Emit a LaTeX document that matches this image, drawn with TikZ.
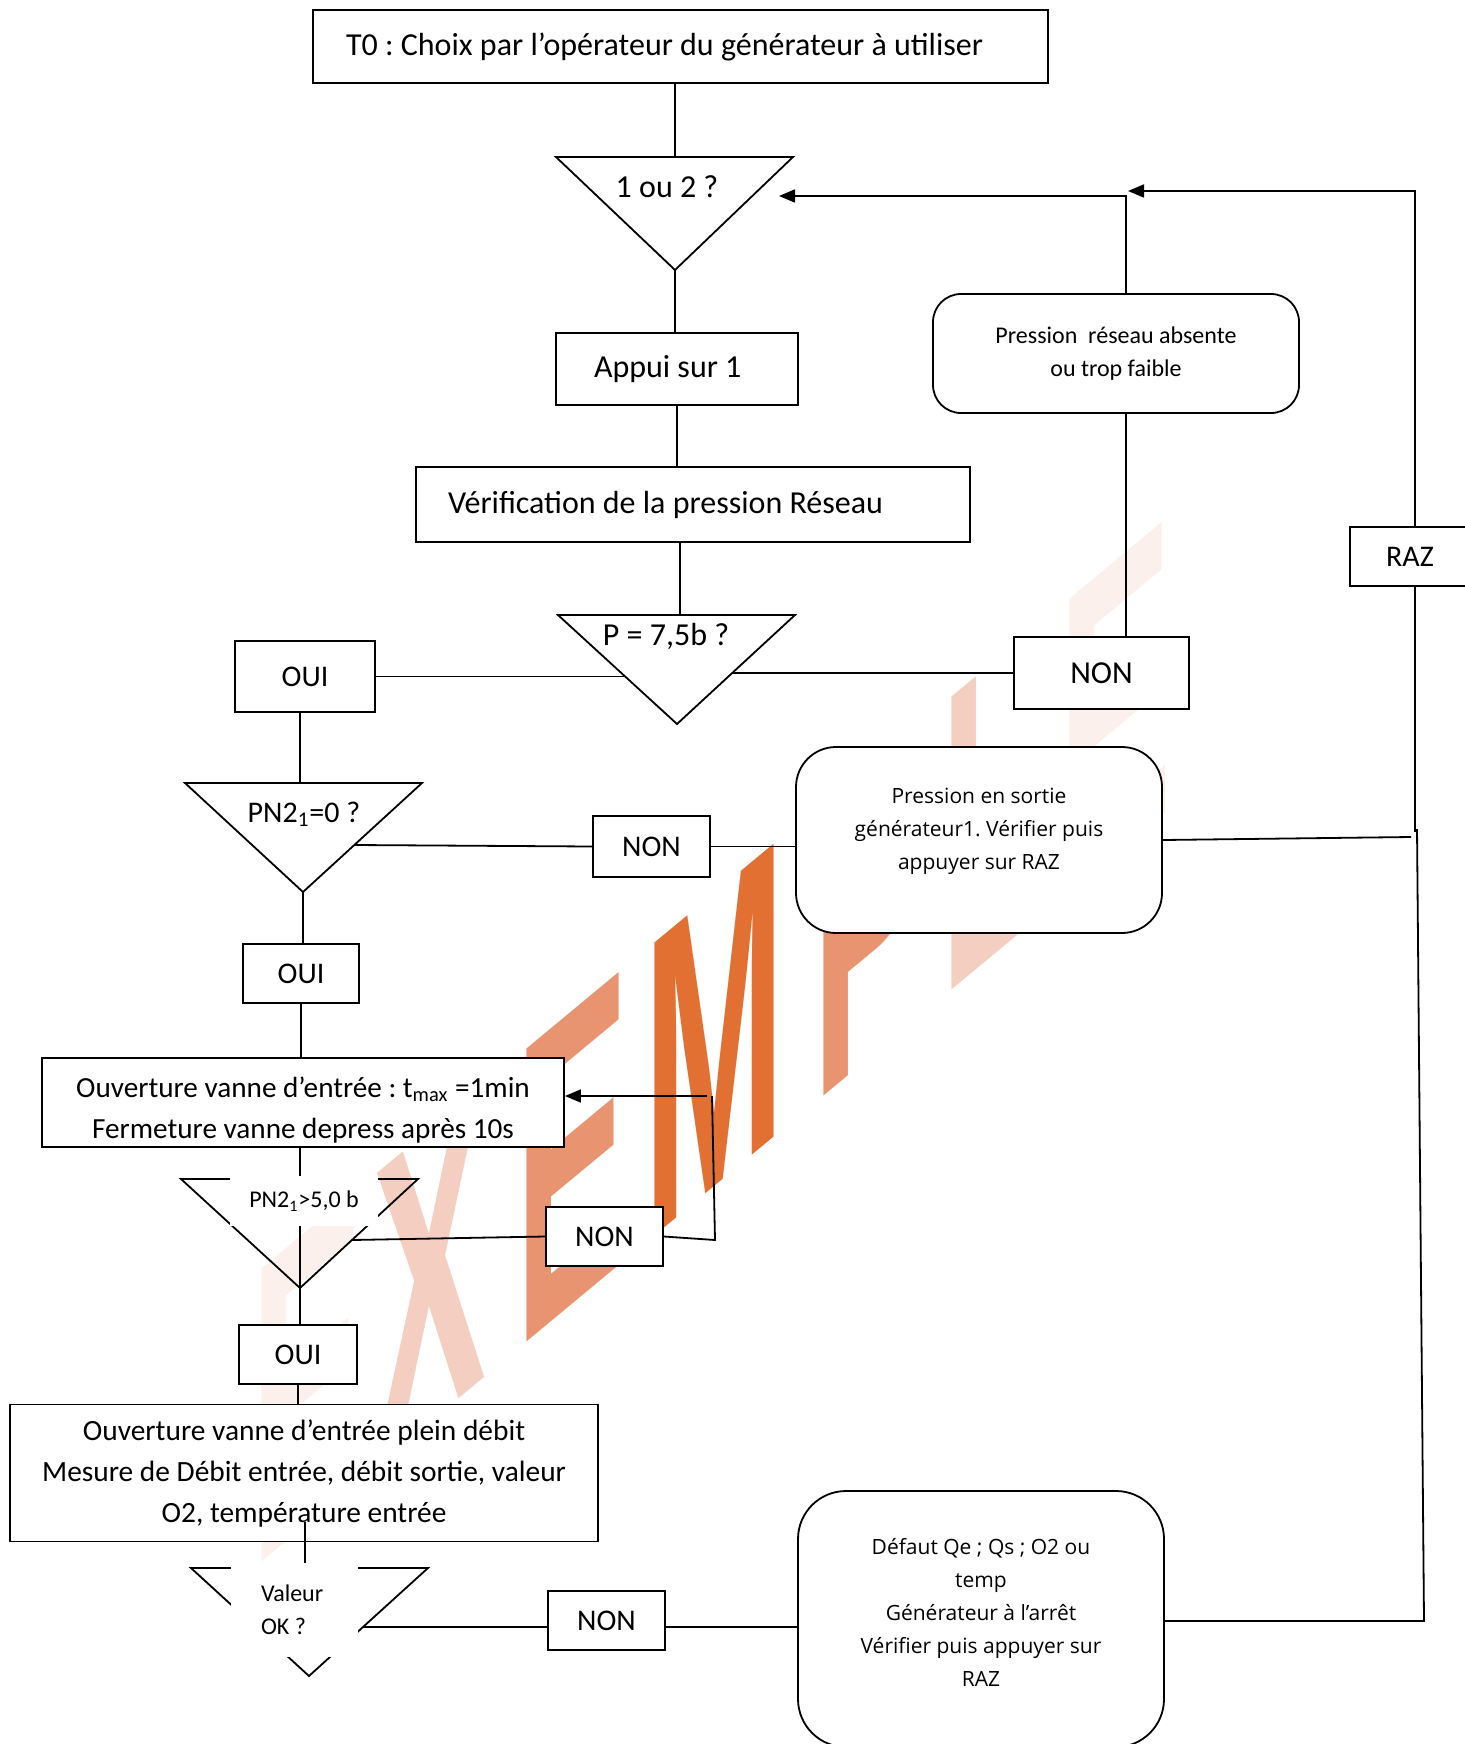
\documentclass[tikz,border=0pt]{standalone}
\usepackage{fontspec}
\setmainfont{Carlito}
\newfontfamily\ronde{Open Sans}
\newfontfamily\filigrane{Liberation Sans}
\frenchspacing
\usetikzlibrary{arrows.meta}

\definecolor{wmclair}{RGB}{251,240,236}
\definecolor{wmrose}{RGB}{243,206,193}
\definecolor{wmsaumon}{RGB}{232,148,112}
\definecolor{wmorange}{RGB}{226,112,50}

\tikzset{
  etape/.style={draw, fill=white, line width=0.9pt, inner sep=0pt, align=center,
    font=\fontsize{15}{20.5}\selectfont},
  grand/.style={font=\fontsize{16}{20.5}\selectfont},
  message/.style={draw, fill=white, line width=0.9pt, inner sep=0pt, align=center},
  petit/.style={font=\fontsize{12}{16.5}\selectfont},
  texte/.style={inner sep=0pt, align=center, font=\fontsize{15}{20.5}\selectfont},
  cache/.style={fill=white, inner sep=0pt},
  lien/.style={line width=0.9pt},
  fleche/.style={line width=0.9pt, -{Triangle[length=8pt,width=6.5pt]}},
  lettre/.style={transform shape, xscale=0.4, anchor=base west, inner sep=0pt,
    font=\filigrane\bfseries\fontsize{213}{213}\selectfont},
}

\begin{document}
\begin{tikzpicture}[x=0.5pt, y=-0.5pt]
  \useasboundingbox (0,0) rectangle (1465,1744);

  % filigrane
  \begin{scope}[shift={(515,1352)}, yslant=0.83]
    \node[lettre, text=wmclair] (w1) at (-265,0) {E};
    \node[lettre, text=wmrose] (w2) at (-143,0) {X};
    \node[lettre, text=wmsaumon] (w3) at (0,0) {E};
    \node[lettre, text=wmorange] (w4) at (128,0) {M};
    \node[lettre, text=wmsaumon] (w5) at (297,0) {P};
    \node[lettre, text=wmrose] (w6) at (425,0) {L};
    \node[lettre, text=wmclair] (w7) at (543,0) {E};
  \end{scope}

  % etapes
  \node[etape, grand, minimum width=367.5pt, minimum height=36.5pt, text width=334.5pt, align=flush left]
    (t0) at (680.5,46.5) {T0 : Choix par l’opérateur du générateur à utiliser};
  \node[etape, grand, minimum width=121pt, minimum height=36pt, text width=83pt, align=flush left]
    (appui) at (677,369) {Appui sur 1};
  \node[etape, grand, minimum width=277pt, minimum height=37.5pt, text width=245pt, align=flush left]
    (verif) at (693,504.5) {Vérification de la pression Réseau};
  \node[etape, minimum width=70pt, minimum height=35.5pt] (oui1) at (305,676.5) {OUI};
  \node[etape, grand, minimum width=87.5pt, minimum height=36pt] (non1) at (1101.5,673) {NON};
  \node[message, petit, rounded corners=14pt, minimum width=183pt, minimum height=59.5pt]
    (pra) at (1116,353.5) {Pression\ \ réseau absente\\ou trop faible};
  \node[etape, minimum width=60pt, minimum height=29.5pt] (raz) at (1410,556.5) {RAZ};
  \node[etape, minimum width=58.5pt, minimum height=30.5pt] (non2) at (651.5,846.5) {NON};
  \node[message, rounded corners=20pt, minimum width=183pt, minimum height=93pt,
    font=\ronde\fontsize{10.5}{16.5}\selectfont]
    (pes) at (979,840) {Pression en sortie\\générateur1. Vérifier puis\\appuyer sur RAZ\\[-5.5pt]\mbox{}};
  \node[etape, minimum width=58pt, minimum height=29.5pt] (oui2) at (301,973.5) {OUI};
  \node[etape, minimum width=261pt, minimum height=44.5pt] (ouv1) at (303,1102.5) {};
  \node[texte, font=\fontsize{14.6}{20.5}\selectfont]
    (ouv1t) at (303,1110) {Ouverture vanne d’entrée : t\textsubscript{max} =1min\\Fermeture vanne depress après 10s};
  \node[etape, minimum width=58.5pt, minimum height=29.5pt] (non3) at (604.5,1236.5) {NON};
  \node[etape, minimum width=59pt, minimum height=29.5pt] (oui3) at (298,1354.5) {OUI};
  \node[etape, font=\fontsize{14.7}{20.5}\selectfont, minimum width=294pt, minimum height=68.5pt]
    (ouv2) at (304,1473) {Ouverture vanne d’entrée plein débit\\Mesure de Débit entrée, débit sortie, valeur\\O2, température entrée};
  \node[etape, minimum width=58.5pt, minimum height=29.5pt] (non4) at (606.5,1620.5) {NON};
  \node[message, rounded corners=24pt, minimum width=183pt, minimum height=128pt,
    font=\ronde\fontsize{10.5}{16.5}\selectfont]
    (defaut) at (981,1619) {Défaut Qe ; Qs ; O2 ou\\temp\\Générateur à l’arrêt\\Vérifier puis appuyer sur\\RAZ\\[-10pt]\mbox{}};

  % tests
  \coordinate (c1l) at (556,157); \coordinate (c1r) at (793,157); \coordinate (c1b) at (675,270);
  \coordinate (c1t) at (675,157);
  \draw[lien] (c1l) -- (c1r) -- (c1b) -- cycle;
  \node[texte, grand] (q1) at (667,187) {1 ou 2 ?};

  \coordinate (c2l) at (558,615); \coordinate (c2r) at (795,615); \coordinate (c2b) at (677,724);
  \coordinate (c2t) at (680,615);
  \coordinate (c2g) at (626,676.5); \coordinate (c2d) at (732,673);
  \draw[lien] (c2l) -- (c2r) -- (c2b) -- cycle;
  \node[texte, grand] (q2) at (666,636) {P = 7,5b ?};

  \coordinate (c3l) at (185,783); \coordinate (c3r) at (422,783); \coordinate (c3b) at (303,892);
  \coordinate (c3t) at (300,783); \coordinate (c3d) at (354,845);
  \draw[lien] (c3l) -- (c3r) -- (c3b) -- cycle;
  \node[texte] (q3) at (304,814) {PN2\textsubscript{1}=0 ?};

  \coordinate (c4l) at (181,1179); \coordinate (c4r) at (418,1179); \coordinate (c4b) at (300,1288);
  \coordinate (c4d) at (352,1240);
  \draw[lien] (c4l) -- (c4r) -- (c4b) -- cycle;

  \coordinate (c5l) at (191,1568); \coordinate (c5r) at (428,1568); \coordinate (c5b) at (309,1676);
  \coordinate (c5t) at (305,1568); \coordinate (c5d) at (363,1627);
  \draw[lien] (c5l) -- (c5r) -- (c5b) -- cycle;

  % liaisons
  \coordinate (k1) at (1126,196);
  \coordinate (f1) at (779,196);
  \coordinate (k2) at (1415,191);
  \coordinate (k3) at (1415,832);
  \coordinate (k4) at (1411,837);
  \coordinate (k5) at (1417,829);
  \coordinate (k6) at (1424,1621);
  \coordinate (k7) at (715,1240);
  \coordinate (k8) at (712,1096);

  \draw[lien] (c1t |- t0.south) -- (c1t);
  \draw[lien] (c1b) -- (c1b |- appui.north);
  \draw[lien] (appui.south) -- (appui.south |- verif.north);
  \draw[lien] (c2t |- verif.south) -- (c2t);
  \draw[lien] (oui1.east) -- (c2g);
  \draw[lien] (c2d) -- (non1.west);
  \draw[lien] (k1 |- non1.north) -- (k1 |- pra.south);
  \draw[fleche] (k1 |- pra.north) -- (k1) -- (f1);
  \draw[fleche] (k2 |- raz.north) -- (k2) -- ([xshift=1pt]k1 |- k2);
  \draw[lien] (k2 |- raz.south) -- (k3);
  \draw[lien] (pes.east) -- (k4);
  \draw[lien] (defaut.east |- k6) -- (k6) -- (k5);
  \draw[lien] (c3t |- oui1.south) -- (c3t);
  \draw[lien] (c3d) -- (non2.west);
  \draw[lien] (non2.east) -- (pes.west |- non2.east);
  \draw[lien] (c3b) -- (c3b |- oui2.north);
  \draw[lien] (oui2.south) -- (oui2.south |- ouv1.north);
  \draw[lien] (c4b |- ouv1.south) -- (c4b) -- (c4b |- oui3.north);
  \draw[lien] (c4d) -- (non3.west);
  \draw[lien] (non3.east) -- (k7) -- (k8);
  \draw[fleche] ([xshift=-2.5pt]k8) -- (ouv1.east |- k8);
  \draw[lien] (oui3.south) -- (oui3.south |- ouv2.north);
  \draw[lien] ([yshift=23pt]c5t) -- (c5t);
  \draw[lien] (c5d) -- (non4.west |- c5d);
  \draw[lien] (non4.east |- c5d) -- (defaut.west |- c5d);

  % textes des tests sur fond blanc
  \node[cache, petit, minimum width=74pt, minimum height=25pt] (q4) at (304,1201) {PN2\textsubscript{1}>5,0 b};
  \node[cache, petit, minimum width=63.5pt, minimum height=47pt, text width=33.5pt, align=flush left]
    (q5) at (294.5,1610) {Valeur\\OK ?};
\end{tikzpicture}
\end{document}
